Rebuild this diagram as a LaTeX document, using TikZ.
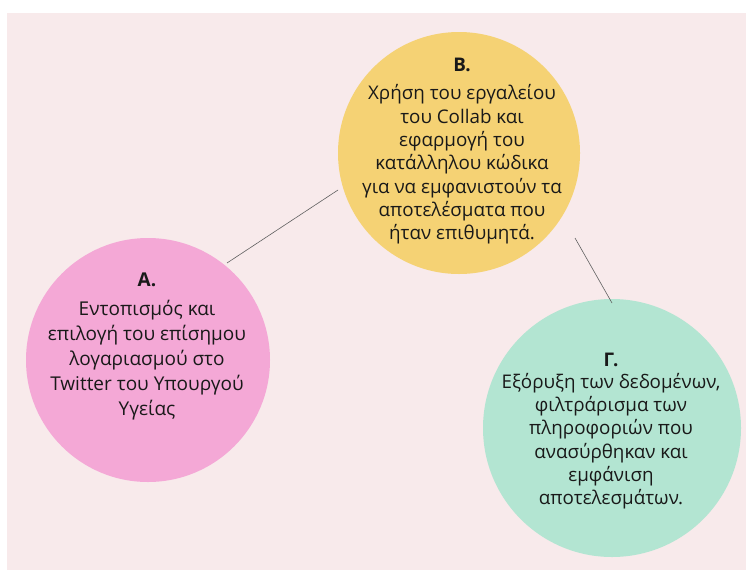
\documentclass[tikz,border=0pt]{standalone}
\usepackage{fontspec}
\setmainfont{Open Sans}
\usetikzlibrary{calc}
\definecolor{bgpink}{HTML}{F8EAEB}
\definecolor{cA}{HTML}{F4A8D6}
\definecolor{cB}{HTML}{F5D274}
\definecolor{cG}{HTML}{B3E5D2}
\definecolor{lineg}{HTML}{606060}
\begin{document}
\begin{tikzpicture}[x=1pt,y=-1pt,
  disc/.style={circle,draw=none,inner sep=0pt,minimum size=#1},
  txt/.style={align=center,inner sep=0pt,text=black!90},
  link/.style={draw=lineg,line width=0.6pt}]
\useasboundingbox (0,0) rectangle (746,570);
\fill[white] (0,0) rectangle (746,570);
\fill[bgpink] (7,13) rectangle (746,570);
\node[disc=244pt,fill=cA] (A) at (148,360) {};
\node[disc=242pt,fill=cB] (B) at (459,153) {};
\node[disc=258pt,fill=cG] (G) at (612,428) {};
\node[txt,font=\fontsize{19}{25}\selectfont] (At) at (147,346)
  {\textbf{A.}\\[4pt]Εντοπισμός και\\επιλογή του επίσημου\\λογαριασμού στο\\Twitter του Υπουργού\\Υγείας};
\node[txt,font=\fontsize{18.8}{23.3}\selectfont] (Bt) at (462,151)
  {\textbf{B.}\\[5.5pt]Χρήση του εργαλείου\\του Collab και\\εφαρμογή του\\κατάλληλου κώδικα\\για να εμφανιστούν τα\\αποτελέσματα που\\ήταν επιθυμητά.};
\node[txt,font=\fontsize{18.8}{23.3}\selectfont] (Gt) at (611,431)
  {\textbf{Γ.}\\[-1pt]Εξόρυξη των δεδομένων,\\φιλτράρισμα των\\πληροφοριών που\\ανασύρθηκαν και\\εμφάνιση\\αποτελεσμάτων.};
\coordinate (ab1) at ($(A.center)+(79,-97)$);
\coordinate (ab2) at ($(B.center)+(-121,37)$);
\coordinate (bg1) at ($(B.center)+(116,85)$);
\coordinate (bg2) at ($(G.center)+(0,-125)$);
\draw[link] (ab1) -- (ab2);
\draw[link] (bg1) -- (bg2);
\end{tikzpicture}
\end{document}
